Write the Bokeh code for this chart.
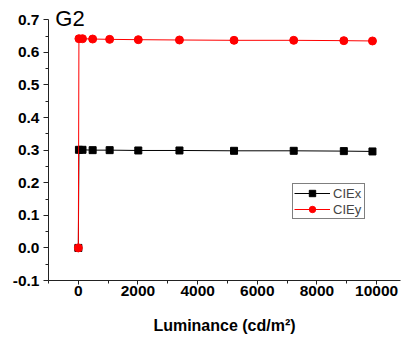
from bokeh.plotting import figure
from bokeh.models import FixedTicker, PrintfTickFormatter, Label, Legend, LegendItem, Range1d
from bokeh.embed import file_html
from bokeh.resources import INLINE

# Data
luminance = [0, 20, 140, 480, 1050, 2010, 3390, 5220, 7220, 8900, 9860]
ciex = [0.0, 0.301, 0.301, 0.300, 0.300, 0.299, 0.299, 0.298, 0.298, 0.297, 0.296]
ciey = [0.0, 0.642, 0.642, 0.641, 0.640, 0.639, 0.638, 0.637, 0.637, 0.636, 0.635]

y_ticks = [-0.1, 0.0, 0.1, 0.2, 0.3, 0.4, 0.5, 0.6, 0.7]
y_minor = [-0.05, 0.05, 0.15, 0.25, 0.35, 0.45, 0.55, 0.65]
x_ticks = [0, 2000, 4000, 6000, 8000, 10000]
x_minor = [-1000, 1000, 3000, 5000, 7000, 9000]

FONT = "Liberation Sans"

p = figure(width=406, height=341, output_backend="svg", toolbar_location=None,
           x_range=Range1d(-1000, 10800), y_range=Range1d(-0.1, 0.75),
           min_border_left=48, min_border_right=6, min_border_top=3, min_border_bottom=61)
p.outline_line_color = None
p.xgrid.visible = False
p.ygrid.visible = False

r1 = p.line(luminance, ciex, line_color="black", line_width=1)
s1 = p.scatter(luminance, ciex, marker="square", size=7, fill_color="black", line_color="black")
r2 = p.line(luminance, ciey, line_color="#ff0000", line_width=1)
s2 = p.scatter(luminance, ciey, marker="circle", size=8, fill_color="#ff0000", line_color="#ff0000")

for ax in (p.xaxis[0], p.yaxis[0]):
    ax.axis_line_color = "#222222"
    ax.major_tick_line_color = "#222222"
    ax.minor_tick_line_color = "#222222"
    ax.major_tick_in = 0
    ax.minor_tick_in = 0
    ax.major_label_text_font = FONT
    ax.major_label_text_font_style = "bold"
    ax.major_label_text_font_size = "15.5px"
    ax.major_label_text_color = "black"

p.yaxis.ticker = FixedTicker(ticks=y_ticks, minor_ticks=y_minor)
p.yaxis.formatter = PrintfTickFormatter(format="%.1f")
p.yaxis.bounds = (y_ticks[0], y_ticks[-1])
p.yaxis.major_tick_out = 5
p.yaxis.minor_tick_out = 3
p.yaxis.major_label_standoff = 4

p.xaxis.ticker = FixedTicker(ticks=x_ticks, minor_ticks=x_minor)
p.xaxis.formatter = PrintfTickFormatter(format="%d")
p.xaxis.major_tick_out = 4
p.xaxis.minor_tick_out = 3
p.xaxis.major_label_standoff = 1
p.xaxis.axis_label = "Luminance (cd/m²)"
p.xaxis.axis_label_text_font = FONT
p.xaxis.axis_label_text_font_style = "bold"
p.xaxis.axis_label_text_font_size = "16px"
p.xaxis.axis_label_text_color = "black"
p.xaxis.axis_label_standoff = 18

title = Label(x=-772, y=0.703, text="G2",
              text_font=FONT, text_font_size="22px", text_color="black",
              text_baseline="alphabetic", level="overlay")
p.add_layout(title)

legend = Legend(items=[LegendItem(label="CIEx", renderers=[r1, s1]),
                       LegendItem(label="CIEy", renderers=[r2, s2])],
                location=(244, 61), orientation="vertical",
                padding=1, spacing=0, margin=0,
                glyph_width=36, glyph_height=16, label_height=16, label_width=30,
                label_standoff=3, label_text_font=FONT, label_text_font_size="13px",
                border_line_color="black", border_line_width=1,
                background_fill_alpha=1.0)
p.add_layout(legend)

open("out.html", "w").write(file_html(p, INLINE))
